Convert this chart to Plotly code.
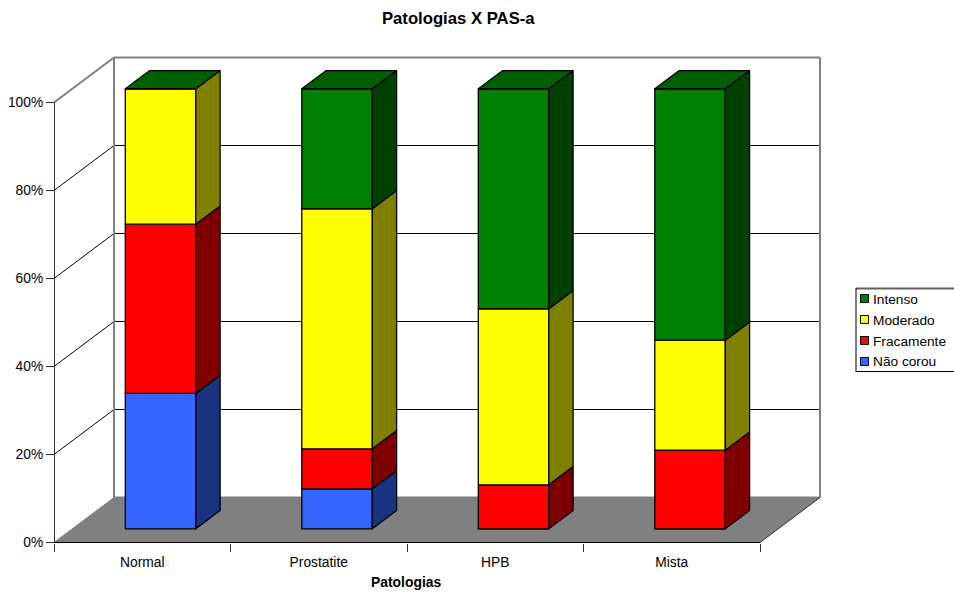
import plotly.graph_objects as go

categories = ["Normal", "Prostatite", "HPB", "Mista"]
series_names = ["Não corou", "Fracamente", "Moderado", "Intenso"]
nao_corou = [30.77, 9.09, 0.0, 0.0]
fracamente = [38.46, 9.09, 10.0, 17.86]
moderado = [30.77, 54.55, 40.0, 25.0]
intenso = [0.0, 27.27, 50.0, 57.14]
y_ticks = [0, 20, 40, 60, 80, 100]
y_tick_labels = ["0%", "20%", "40%", "60%", "80%", "100%"]

series = [nao_corou, fracamente, moderado, intenso]
front_colors = ["#3366FF", "#FF0000", "#FFFF00", "#008000"]
side_colors = ["#1A3380", "#800000", "#808000", "#004000"]
top_color = "#006000"

W, H = 954, 593
X0_PX, X4_PX = 54, 760         # category axis on the front plane
Y0_PX, Y100_PX = 542.5, 102.5  # value axis on the front plane
PX_PER_CAT = (X4_PX - X0_PX) / 4
PX_PER_PCT = (Y0_PX - Y100_PX) / 100
DEPTH_X = 60 / PX_PER_CAT    # oblique shift of the back wall, category units
DEPTH_Y = 45 / PX_PER_PCT    # oblique shift of the back wall, percent units
BAR_WIDTH = 70.5 / PX_PER_CAT
BAR_NEAR, BAR_FAR = 0.305, 0.71
BLACK, GREY = "#000000", "#808080"
HALF_PIXEL = 0.5 / PX_PER_CAT  # keeps the value axis line on a single pixel column


def oblique(x, pct, depth):
    """Project a point of the 3-D box onto the flat axes."""
    return x + depth * DEPTH_X, pct + depth * DEPTH_Y


def path(points):
    return "M" + "L".join(f"{x},{y}" for x, y in points) + "Z"


def seg(a, b, color, width):
    return dict(type="line", xref="x", yref="y", layer="below",
                x0=a[0], y0=a[1], x1=b[0], y1=b[1],
                line=dict(color=color, width=width))


def px_x(v):
    return v / W


def px_y(v):
    return 1 - v / H


fig = go.Figure()
shapes = []

# Floor of the box
floor = [oblique(0, 0, 0), oblique(0, 0, 1), oblique(4, 0, 1), oblique(4, 0, 0)]
shapes.append(dict(type="path", xref="x", yref="y", layer="below", path=path(floor),
                   fillcolor=GREY, line=dict(width=0)))

# Gridlines across the side wall and the back wall
for p in y_ticks[1:-1]:
    shapes.append(seg(oblique(0, p, 0), oblique(0, p, 1), BLACK, 1))
    shapes.append(seg(oblique(0, p, 1), oblique(4, p, 1), BLACK, 1))

# Wall edges
shapes.append(seg(oblique(0, 100, 0), oblique(0, 100, 1), GREY, 2))
shapes.append(seg(oblique(0, 100, 1), oblique(4, 100, 1), GREY, 2))
shapes.append(seg(oblique(0, 0, 1), oblique(0, 100, 1), GREY, 2))
shapes.append(seg(oblique(4, 0, 1), oblique(4, 100, 1), GREY, 2))
shapes.append(seg(oblique(0, 0, 1), oblique(4, 0, 1), GREY, 2))
shapes.append(seg(oblique(0, 0, 0), oblique(0, 0, 1), GREY, 1))
shapes.append(seg(oblique(4, 0, 0), oblique(4, 0, 1), "#303030", 1))

# Front axis lines
shapes.append(seg((0, 0), (4, 0), BLACK, 1))
shapes.append(seg((HALF_PIXEL, 0), (HALF_PIXEL, 100), "#303030", 1))

# Front faces of the stacks, nudged into the box depth
cat_x = [i + 0.5 for i in range(len(categories))]
front_x = [oblique(c, 0, BAR_NEAR)[0] for c in cat_x]
base_shift = oblique(0, 0, BAR_NEAR)[1]
running = [0.0] * len(categories)
for values, name, color in zip(series, series_names, front_colors):
    fig.add_trace(go.Bar(
        x=front_x, y=values, base=[r + base_shift for r in running],
        width=BAR_WIDTH, name=name, showlegend=False,
        marker=dict(color=color, line=dict(color=BLACK, width=1.3)),
        customdata=categories,
        hovertemplate="%{customdata}<br>" + name + ": %{y:.1f}%<extra></extra>",
    ))
    running = [r + v for r, v in zip(running, values)]


def add_face(points, color):
    xs = [p[0] for p in points] + [points[0][0]]
    ys = [p[1] for p in points] + [points[0][1]]
    fig.add_trace(go.Scatter(x=xs, y=ys, mode="lines", fill="toself", fillcolor=color,
                             line=dict(color=BLACK, width=1.3), showlegend=False,
                             hoverinfo="skip"))


# Side faces of every segment and the cap of each stack
for i, c in enumerate(cat_x):
    right = c + BAR_WIDTH / 2
    left = c - BAR_WIDTH / 2
    low = 0.0
    for values, shade in zip(series, side_colors):
        high = low + values[i]
        if values[i] > 0:
            add_face([oblique(right, low, BAR_NEAR), oblique(right, low, BAR_FAR),
                      oblique(right, high, BAR_FAR), oblique(right, high, BAR_NEAR)], shade)
        low = high
    add_face([oblique(left, low, BAR_NEAR), oblique(left, low, BAR_FAR),
              oblique(right, low, BAR_FAR), oblique(right, low, BAR_NEAR)], top_color)

# Legend box, listed from the top of the stack downwards
annotations = []
shapes.append(dict(type="rect", xref="paper", yref="paper", x0=px_x(856), x1=px_x(960),
                   y0=px_y(371.5), y1=px_y(288.5), fillcolor="#FFFFFF", line=dict(width=0)))
for a, b, color, width in [((856, 288.5), (954, 288.5), "#606060", 2),
                           ((856, 288), (856, 372), BLACK, 1),
                           ((856, 371.5), (954, 371.5), BLACK, 1)]:
    shapes.append(dict(type="line", xref="paper", yref="paper",
                       x0=px_x(a[0]), y0=px_y(a[1]), x1=px_x(b[0]), y1=px_y(b[1]),
                       line=dict(color=color, width=width)))
for row, idx in enumerate(reversed(range(len(series_names)))):
    yc = 298.5 + row * 21
    shapes.append(dict(type="rect", xref="paper", yref="paper",
                       x0=px_x(860.5), x1=px_x(868.5), y0=px_y(yc + 4), y1=px_y(yc - 4),
                       fillcolor=front_colors[idx], line=dict(color=BLACK, width=1)))
    annotations.append(dict(xref="paper", yref="paper", x=px_x(871.5), y=px_y(yc + 0.5),
                            xanchor="left", yanchor="middle", showarrow=False,
                            text=series_names[idx],
                            font=dict(size=13.7, color=BLACK), borderpad=0))

# Category axis title, centred under the front plane
annotations.append(dict(xref="paper", yref="paper", x=px_x(406.7), y=px_y(581.5),
                        xanchor="center", yanchor="middle", showarrow=False,
                        text="<b>Patologias</b>", font=dict(size=13.9, color=BLACK)))

fig.update_layout(
    width=W, height=H, margin=dict(l=0, r=0, t=0, b=0, autoexpand=False),
    paper_bgcolor="#FFFFFF", plot_bgcolor="#FFFFFF", barmode="overlay", showlegend=False,
    font=dict(family="Liberation Sans, Arial, sans-serif", size=13.8, color=BLACK),
    title=dict(text="<b>Patologias X PAS-a</b>", x=458.3 / W, xanchor="center",
               y=px_y(18), yanchor="middle", font=dict(size=16.7)),
    shapes=shapes, annotations=annotations,
    xaxis=dict(
        domain=[px_x(40), px_x(830)],
        range=[(40 - X0_PX) / PX_PER_CAT, (830 - X0_PX) / PX_PER_CAT],
        anchor="free", position=px_y(Y0_PX),
        tickmode="array", tickvals=cat_x, ticktext=categories, ticks="",
        ticklabelstandoff=10,
        minor=dict(tickmode="array", tickvals=list(range(len(categories) + 1)),
                   ticks="outside", ticklen=8, tickcolor="#303030", tickwidth=1),
        showgrid=False, zeroline=False, showline=False,
    ),
    yaxis=dict(
        domain=[px_y(552), px_y(50)],
        range=[(Y0_PX - 552) / PX_PER_PCT, (Y0_PX - 50) / PX_PER_PCT],
        anchor="free", position=px_x(X0_PX),
        tickmode="array", tickvals=y_ticks, ticktext=y_tick_labels,
        ticks="outside", ticklen=8, tickcolor="#303030", tickwidth=1,
        showgrid=False, zeroline=False, showline=False,
    ),
)

fig.write_html("out.html")
